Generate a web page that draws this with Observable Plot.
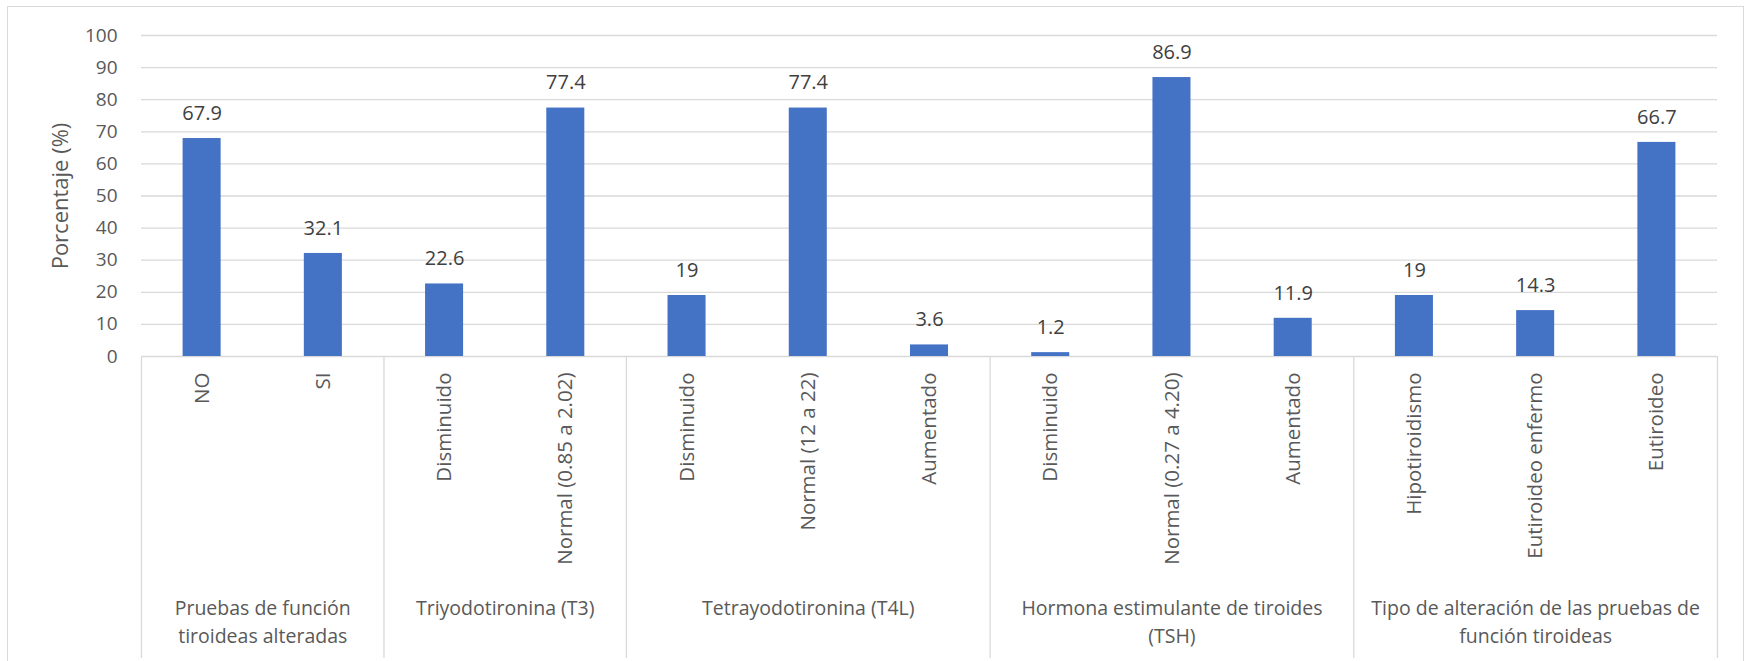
<!DOCTYPE html>
<html><head><meta charset="utf-8">
<script src="https://cdn.jsdelivr.net/npm/d3@7"></script>
<script src="https://cdn.jsdelivr.net/npm/@observablehq/plot@0.6"></script>
<style>
html,body{margin:0;padding:0;background:#fff;overflow:hidden;width:1745px;height:661px}
#frame{position:absolute;left:7px;top:6px;width:1737px;height:700px;border:1px solid #d9d9d9;box-sizing:border-box}
#chart{position:absolute;left:0;top:0}
</style></head><body>
<div id="frame"></div><div id="chart"></div>
<script>
const labels = ["NO","SI","Disminuido","Normal (0.85 a 2.02)","Disminuido","Normal (12 a 22)","Aumentado","Disminuido","Normal (0.27 a 4.20)","Aumentado","Hipotiroidismo","Eutiroideo enfermo","Eutiroideo"];
const values = [67.9,32.1,22.6,77.4,19,77.4,3.6,1.2,86.9,11.9,19,14.3,66.7];
const groupIndex = [0,0,1,1,2,2,2,3,3,3,4,4,4];
const groupNames = ["Pruebas de función\ntiroideas alteradas","Triyodotironina (T3)","Tetrayodotironina (T4L)","Hormona estimulante de tiroides\n(TSH)","Tipo de alteración de las pruebas de\nfunción tiroideas"];
const yTicks = [0,10,20,30,40,50,60,70,80,90,100];
const yTitle = "Porcentaje (%)";

const data = labels.map((label,i)=>({i,label,value:values[i],group:groupIndex[i]}));
const groups = groupNames.map((name,g)=>{const idx = data.filter(d=>d.group===g).map(d=>d.i); return {name, start:d3.min(idx), end:d3.max(idx)+1};});
const boundaries = [0, ...groups.map(g=>g.end)];

const chart = Plot.plot({
  width:1745, height:661, marginLeft:141, marginRight:28, marginTop:35, marginBottom:305,
  style:{fontFamily:"'Open Sans', sans-serif", background:"transparent", overflow:"visible"},
  x:{type:"linear", domain:[0, labels.length]},
  y:{domain:[0,100]},
  marks:[
    Plot.ruleY(yTicks, {stroke:"#d9d9d9", strokeWidth:1.3}),
    Plot.rectY(data, {x1:"i", x2:d=>d.i+1, y:"value", fill:"#4472C4", insetLeft:41.6, insetRight:41.6}),
    Plot.ruleX(boundaries, {x:d=>d, y1:0, y2:0, insetBottom:-302, stroke:"#d9d9d9", strokeWidth:1.3}),
    Plot.text(data, {x:d=>d.i+0.5, y:"value", text:d=>String(d.value), dy:-25, fontSize:20, fill:"#404040"}),
    Plot.axisY({ticks:yTicks, tickSize:0, tickPadding:24, fontSize:19, color:"#595959", label:null}),
    Plot.text([yTitle], {frameAnchor:"left", textAnchor:"middle", rotate:-90, dx:-81, fontSize:22, fill:"#595959"}),
    Plot.axisX({ticks:data.map(d=>d.i+0.5), tickFormat:t=>labels[Math.floor(t)], tickRotate:-90, tickSize:0, tickPadding:16, fontSize:20.5, color:"#595959", label:null}),
    Plot.text(groups, {x:d=>(d.start+d.end)/2, y:0, text:"name", lineAnchor:"top", dy:239, fontSize:19.5, lineHeight:1.42, fill:"#595959"})
  ]
});
document.getElementById("chart").appendChild(chart);
</script>
</body></html>
